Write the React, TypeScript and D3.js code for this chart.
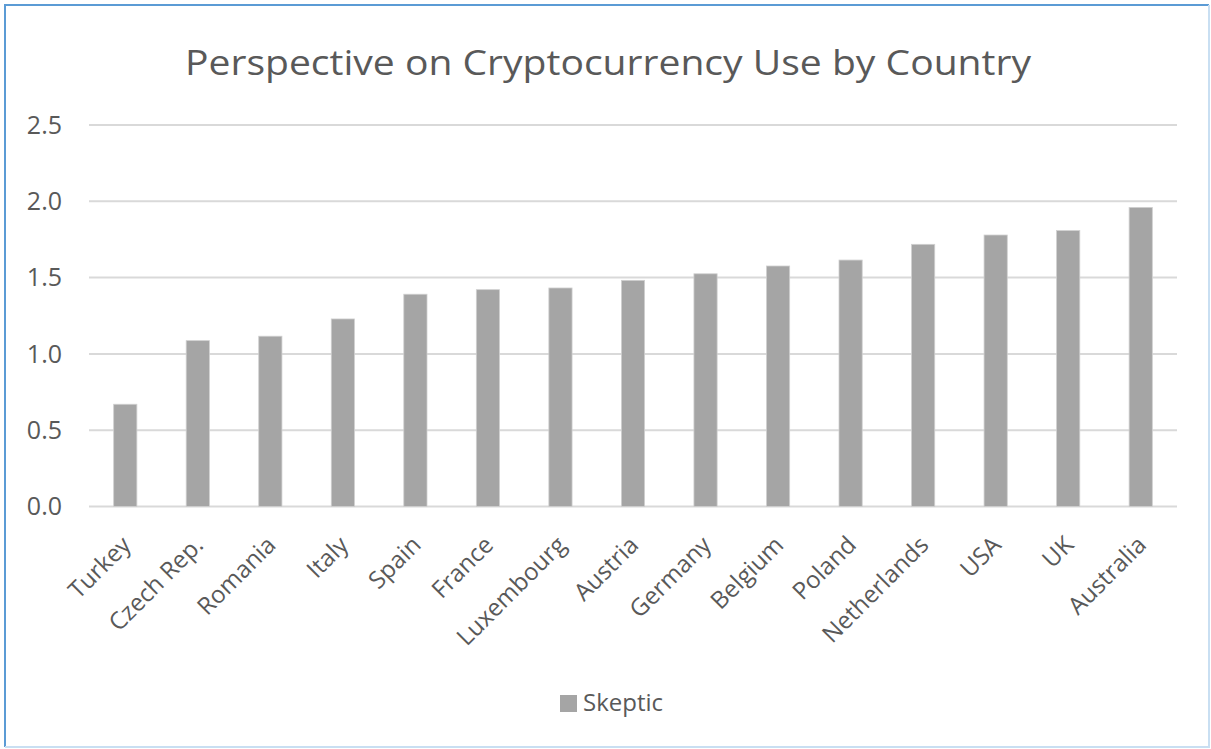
import React, { useEffect, useRef } from "react";
import * as d3 from "d3";

const countries = ["Turkey", "Czech Rep.", "Romania", "Italy", "Spain", "France", "Luxembourg", "Austria", "Germany", "Belgium", "Poland", "Netherlands", "USA", "UK", "Australia"];
const skeptic = [0.67, 1.087, 1.116, 1.229, 1.391, 1.421, 1.432, 1.482, 1.525, 1.576, 1.615, 1.718, 1.779, 1.808, 1.96];
const yTicks = [0, 0.5, 1.0, 1.5, 2.0, 2.5];
const seriesName = "Skeptic";
const title = "Perspective on Cryptocurrency Use by Country";

const W = 1211, H = 749;
const FONT = "'Open Sans', sans-serif";
const TXT = "#595959";
const BAR = "#a5a5a5";
const GRID = "#d9d9d9";

export default function App() {
  const ref = useRef<SVGSVGElement>(null);
  useEffect(() => {
    const svg = d3.select(ref.current);
    svg.selectAll("*").remove();
    const left = 89, right = 1177, top = 125, bottom = 506.5;
    const x = d3.scaleBand().domain(countries).range([left, right]).paddingInner(0.68).paddingOuter(0.34);
    const y = d3.scaleLinear().domain([0, 2.5]).range([bottom, top]);

    svg.append("rect").attr("x", 0).attr("y", 0).attr("width", W).attr("height", H).attr("fill", "#fff");
    // border
    svg.append("path").attr("d", `M5,${H - 2} L5,5 L${W - 2},5`).attr("fill", "none").attr("stroke", "#5b9bd5").attr("stroke-width", 2);
    svg.append("path").attr("d", `M${W - 2},5 L${W - 2},${H - 2} L5,${H - 2}`).attr("fill", "none").attr("stroke", "#c9dff2").attr("stroke-width", 2);

    svg.append("text").attr("x", 608).attr("y", 75).attr("text-anchor", "middle")
      .attr("font-family", FONT).attr("font-size", 35).attr("fill", TXT).attr("textLength", 846).attr("lengthAdjust", "spacingAndGlyphs").text(title);

    const g = svg.append("g");
    g.selectAll("line.grid").data(yTicks).join("line").attr("class", "grid")
      .attr("x1", left).attr("x2", right).attr("y1", d => y(d)).attr("y2", d => y(d))
      .attr("stroke", GRID).attr("stroke-width", 2);
    g.selectAll("text.ytick").data(yTicks).join("text").attr("class", "ytick")
      .attr("x", 62).attr("y", d => y(d)).attr("dy", "0.35em").attr("text-anchor", "end")
      .attr("font-family", FONT).attr("font-size", 25).attr("fill", TXT).text(d => d3.format(".1f")(d));

    g.selectAll("rect.bar").data(countries).join("rect").attr("class", "bar")
      .attr("x", d => x(d)!).attr("width", x.bandwidth())
      .attr("y", (d, i) => y(skeptic[i])).attr("height", (d, i) => bottom - y(skeptic[i]))
      .attr("fill", BAR).attr("stroke", "#d0d0d0").attr("stroke-width", 0.8);

    g.selectAll("text.xtick").data(countries).join("text").attr("class", "xtick")
      .attr("transform", d => `translate(${x(d)! + x.bandwidth() / 2 + 1},${bottom + 34}) rotate(-45)`)
      .attr("text-anchor", "end").attr("dy", "0.35em")
      .attr("font-family", FONT).attr("font-size", 24).attr("fill", TXT).text(d => d);

    svg.append("rect").attr("x", 560).attr("y", 695).attr("width", 17).attr("height", 17).attr("fill", BAR);
    svg.append("text").attr("x", 583).attr("y", 703).attr("dy", "0.35em")
      .attr("font-family", FONT).attr("font-size", 24).attr("fill", TXT).text(seriesName);
  }, []);
  return <svg ref={ref} width={W} height={H} style={{ position: "absolute", left: 0, top: 0 }} />;
}
